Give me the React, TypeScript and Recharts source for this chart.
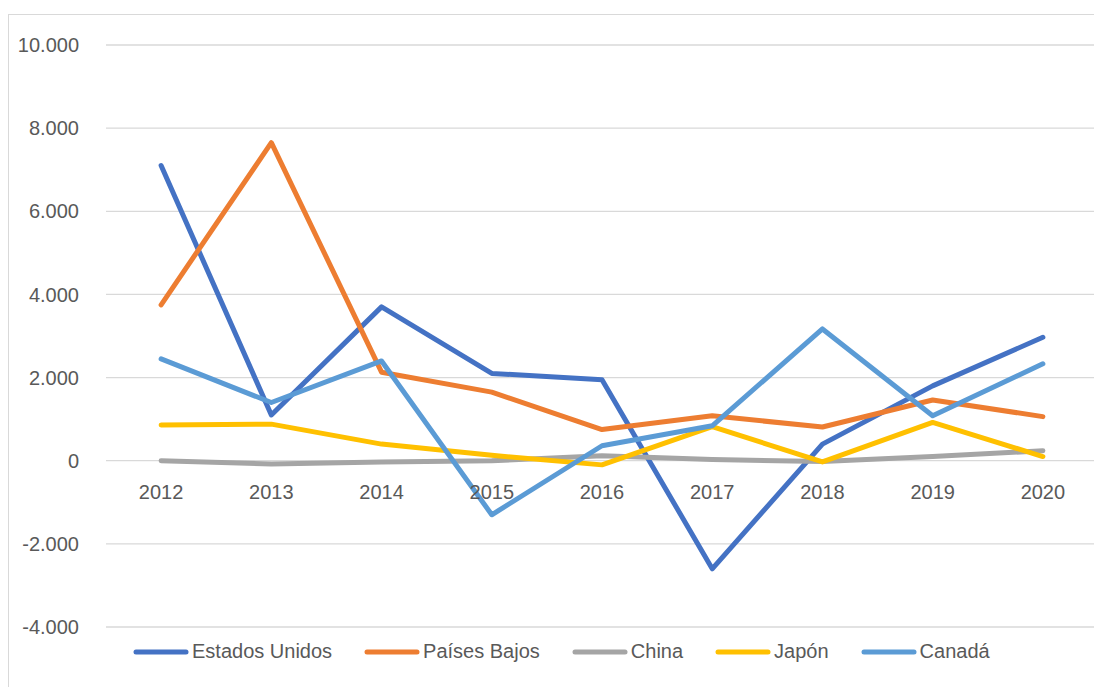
import { LineChart, Line, XAxis, YAxis, CartesianGrid } from "recharts";

// Años y series
const years = ["2012", "2013", "2014", "2015", "2016", "2017", "2018", "2019", "2020"];
const estadosUnidos = [7100, 1100, 3700, 2100, 1950, -2600, 400, 1800, 2970];
const paisesBajos = [3750, 7650, 2130, 1650, 750, 1080, 810, 1460, 1060];
const china = [0, -80, -30, 0, 120, 30, -20, 100, 240];
const japon = [860, 880, 400, 130, -100, 820, -30, 920, 100];
const canada = [2450, 1400, 2400, -1300, 360, 840, 3170, 1080, 2330];
const yTicks = [-4000, -2000, 0, 2000, 4000, 6000, 8000, 10000];

const series = [
  { key: "Estados Unidos", values: estadosUnidos, color: "#4472C4" },
  { key: "Países Bajos", values: paisesBajos, color: "#ED7D31" },
  { key: "China", values: china, color: "#A5A5A5" },
  { key: "Japón", values: japon, color: "#FFC000" },
  { key: "Canadá", values: canada, color: "#5B9BD5" },
];

const chartData = years.map((year, i) => {
  const row: any = { year };
  series.forEach((s) => (row[s.key] = s.values[i]));
  return row;
});

const FONT = "'Liberation Sans', Arial, sans-serif";
const TEXT_COLOR = "#595959";
const CHART_W = 1092;
const CHART_H = 673;
const Y_AXIS_W = 97;
const MARGIN = { top: 30, right: 3, bottom: 60, left: 0 };
const PLOT_W = CHART_W - Y_AXIS_W - MARGIN.left - MARGIN.right;
const PLOT_H = CHART_H - MARGIN.top - MARGIN.bottom;
const HALF_STEP = PLOT_W / (2 * years.length);
const Y_MIN = -4000;
const Y_MAX = 10000;
const zeroY = MARGIN.top + (PLOT_H * Y_MAX) / (Y_MAX - Y_MIN);

const fmt = (v: number) => v.toLocaleString("de-DE");

// x labels sit just under the zero line, like in Excel
const YearTick = ({ x, payload }: any) => (
  <text
    x={x}
    y={zeroY + 31}
    textAnchor="middle"
    dominantBaseline="central"
    fill={TEXT_COLOR}
    fontSize={20}
    fontFamily={FONT}
  >
    {payload.value}
  </text>
);

export default function App() {
  return (
    <div
      style={{
        position: "relative",
        marginTop: 6,
        width: CHART_W,
        height: 680,
        border: "1px solid #d9d9d9",
        background: "#fff",
      }}
    >
      <LineChart width={CHART_W} height={CHART_H} data={chartData} margin={MARGIN}>
        <CartesianGrid vertical={false} stroke="#d9d9d9" strokeWidth={1.3} />
        <XAxis
          dataKey="year"
          axisLine={false}
          tickLine={false}
          height={1}
          tick={<YearTick />}
          interval={0}
          padding={{ left: HALF_STEP, right: HALF_STEP }}
        />
        <YAxis
          domain={[Y_MIN, Y_MAX]}
          ticks={yTicks}
          width={Y_AXIS_W}
          axisLine={false}
          tickLine={false}
          tickSize={0}
          tickMargin={27}
          tickFormatter={fmt}
          tick={{ fill: TEXT_COLOR, fontSize: 20, fontFamily: FONT }}
          interval={0}
        />
        {series.map((s) => (
          <Line
            key={s.key}
            type="linear"
            dataKey={s.key}
            stroke={s.color}
            strokeWidth={5}
            strokeLinecap="round"
            strokeLinejoin="round"
            dot={false}
            activeDot={false}
            isAnimationActive={false}
          />
        ))}
      </LineChart>
      <div
        style={{
          position: "absolute",
          top: 625,
          left: 124,
          display: "flex",
          alignItems: "center",
          gap: 32,
          fontFamily: FONT,
          fontSize: 20,
          color: TEXT_COLOR,
        }}
      >
        {series.map((s) => (
          <div key={s.key} style={{ display: "flex", alignItems: "center", gap: 3 }}>
            <svg width={56} height={10}>
              <line x1={3} y1={5} x2={53} y2={5} stroke={s.color} strokeWidth={5} strokeLinecap="round" />
            </svg>
            <span>{s.key}</span>
          </div>
        ))}
      </div>
    </div>
  );
}
